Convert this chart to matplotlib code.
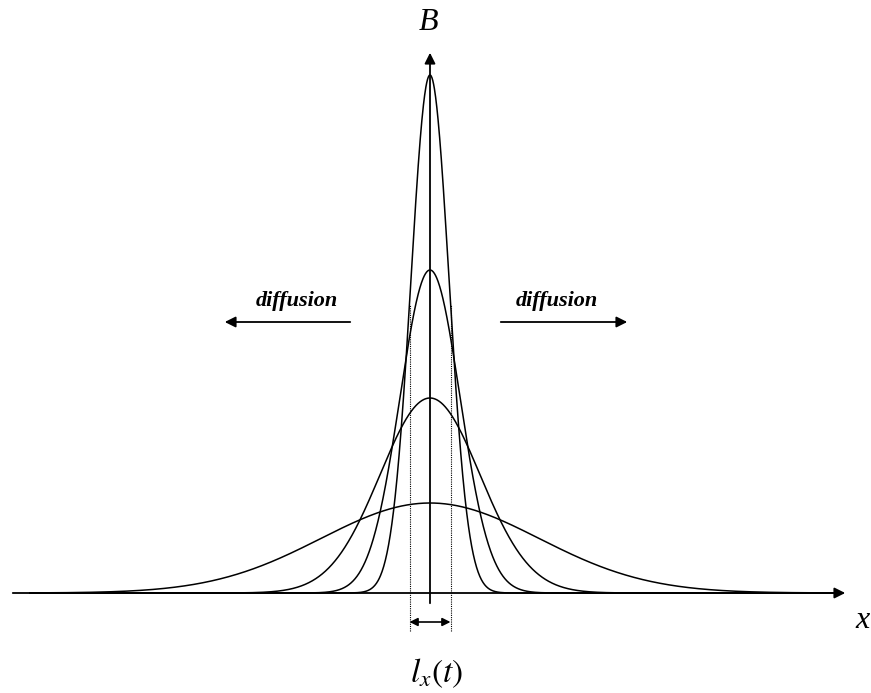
import numpy as np
import matplotlib.pyplot as plt

# pulse profiles: peak height and width (pixel-like units, baseline = 0, centre = 0)
peaks = [518, 323, 195, 90]
widths = [19, 30, 50, 109]
lx_half = 20.5

plt.rcParams['font.family'] = ['Liberation Serif', 'DejaVu Serif']
plt.rcParams['mathtext.fontset'] = 'stix'

fig = plt.figure(figsize=(8.71, 6.93), dpi=100)
ax = fig.add_axes([0, 0, 1, 1])
ax.set_xlim(-430, 441)
ax.set_ylim(-100, 593)
ax.axis('off')

x = np.linspace(-400, 410, 2000)
for h, s in zip(peaks, widths):
    ax.plot(x, h * np.exp(-x**2 / (2 * s**2)), color='black', lw=1.1)

# axes with arrows
arr = dict(arrowstyle='-|>', color='black', lw=1.3, mutation_scale=16)
ax.annotate('', xy=(418, 0), xytext=(-420, 0), arrowprops=arr)
ax.annotate('', xy=(0, 543), xytext=(0, -13), arrowprops=arr)
ax.text(-2, 570, 'B', ha='center', va='center', fontsize=23, style='italic')
ax.text(433, -27, 'x', ha='center', va='center', fontsize=23, style='italic')

# dotted width markers
for xd in (-lx_half, lx_half):
    ax.plot([xd, xd], [-38, 288], color='black', lw=0.8, ls=(0, (1, 1)))
ax.annotate('', xy=(lx_half, -29), xytext=(-lx_half, -29),
            arrowprops=dict(arrowstyle='<|-|>', color='black', lw=1.2,
                            mutation_scale=12, shrinkA=0, shrinkB=0))
ax.text(7, -80, r'$l_x(t)$', ha='center', va='center', fontsize=24)

# diffusion arrows
ax.annotate('', xy=(-208, 271), xytext=(-77, 271), arrowprops=arr)
ax.annotate('', xy=(200, 271), xytext=(68, 271), arrowprops=arr)
ax.text(-133, 292, 'diffusion', ha='center', va='center', fontsize=16,
        style='italic', weight='bold')
ax.text(127, 292, 'diffusion', ha='center', va='center', fontsize=16,
        style='italic', weight='bold')

fig.savefig('out.png', dpi=100)
